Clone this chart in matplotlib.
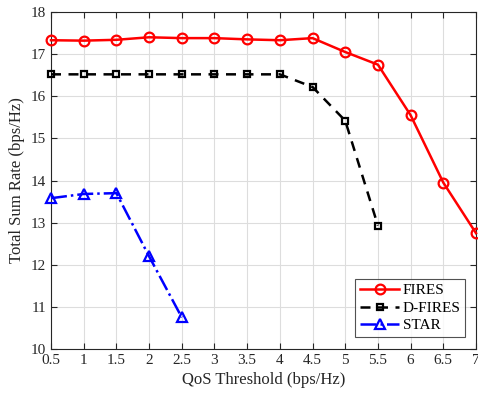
import matplotlib
matplotlib.use("Agg")
import matplotlib.pyplot as plt

plt.rcParams['font.family'] = ['Liberation Serif', 'DejaVu Serif']
plt.rcParams['mathtext.fontset'] = 'stix'

qos_fires = [0.5, 1, 1.5, 2, 2.5, 3, 3.5, 4, 4.5, 5, 5.5, 6, 6.5, 7]
fires = [17.33, 17.32, 17.34, 17.40, 17.38, 17.38, 17.35, 17.33, 17.38, 17.05, 16.75, 15.55, 13.95, 12.75]
qos_dfires = [0.5, 1, 1.5, 2, 2.5, 3, 3.5, 4, 4.5, 5, 5.5]
dfires = [16.52, 16.52, 16.52, 16.52, 16.52, 16.52, 16.52, 16.52, 16.22, 15.42, 12.93]
qos_star = [0.5, 1, 1.5, 2, 2.5]
star = [13.58, 13.68, 13.70, 12.20, 10.75]
xticks = [0.5, 1, 1.5, 2, 2.5, 3, 3.5, 4, 4.5, 5, 5.5, 6, 6.5, 7]
xtick_labels = ['0.5', '1', '1.5', '2', '2.5', '3', '3.5', '4', '4.5', '5', '5.5', '6', '6.5', '7']

fig = plt.figure(figsize=(4.78, 3.94), dpi=100)
ax_l, ax_r, ax_t, ax_b = 51, 476, 12, 349
ax = fig.add_axes([ax_l/478, 1-ax_b/394, (ax_r-ax_l)/478, (ax_b-ax_t)/394])

ax.plot(qos_fires, fires, '-o', color='red', lw=1.8, ms=7, mfc='none', mew=1.6, label='FIRES', clip_on=False, zorder=3)
ax.plot(qos_dfires, dfires, '--s', color='black', lw=1.8, ms=5, mfc='none', mew=1.6, label='D-FIRES', clip_on=False, zorder=3,
        dashes=(4, 3))
ax.plot(qos_star, star, '-.^', color='blue', lw=1.8, ms=7, mfc='none', mew=1.6, label='STAR', clip_on=False, zorder=3)

ax.set_xlim(0.5, 7)
ax.set_ylim(10, 18)
ax.set_xticks(xticks)
ax.set_xticklabels(xtick_labels)
ax.set_yticks(range(10, 19))
ax.grid(True, color='#dddddd', lw=0.8)
ax.set_axisbelow(True)
ax.tick_params(direction='in', top=True, right=True, labelsize=11, length=4, colors='#262626', labelcolor='#262626')
for s in ax.spines.values():
    s.set_color('#262626')
    s.set_linewidth(0.8)
ax.set_xlabel('QoS Threshold (bps/Hz)', fontsize=12, color='#262626')
ax.set_ylabel('Total Sum Rate (bps/Hz)', fontsize=12, color='#262626')

bx = (465 - ax_l) / (ax_r - ax_l)
by = (ax_b - 337) / (ax_b - ax_t)
leg = ax.legend(loc='lower right', bbox_to_anchor=(bx, by), fontsize=11, frameon=True, fancybox=False,
                edgecolor='#262626', handlelength=2.6, borderpad=0.3, labelspacing=0.25,
                handletextpad=0.2, borderaxespad=0.0)
leg.get_frame().set_linewidth(0.8)

fig.savefig('out.png', dpi=100)
